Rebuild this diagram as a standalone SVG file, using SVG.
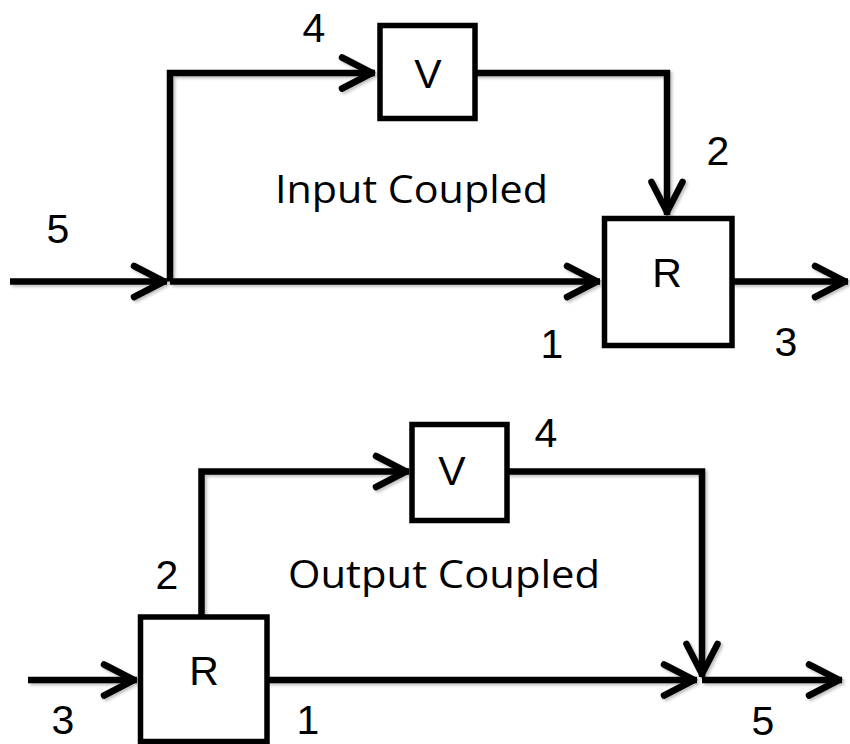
<svg xmlns="http://www.w3.org/2000/svg" width="850" height="744" viewBox="0 0 850 744">
<style>
.box{fill:#fff;stroke:#000;stroke-width:5.5}
.ln{fill:none;stroke:#000;stroke-width:6.5;stroke-linejoin:miter;stroke-linecap:butt}
.lbl{font-family:"Liberation Sans",Arial,sans-serif;font-size:41px;fill:#000;text-anchor:middle}
.ttl{font-family:"Open Sans","Liberation Sans",Arial,sans-serif;font-size:39px;fill:#000}
</style>
<defs>
<marker id="ah" markerUnits="userSpaceOnUse" markerWidth="50" markerHeight="50" viewBox="-40 -25 50 50" refX="0" refY="0" orient="auto" overflow="visible">
<path d="M-33,-15.5 L-3,0 L-33,15.5" fill="none" stroke="#000" stroke-width="6.5" stroke-linecap="round" stroke-linejoin="round"/>
</marker>
<filter id="sh" x="-5%" y="-5%" width="110%" height="110%">
<feDropShadow dx="2" dy="2" stdDeviation="1.5" flood-color="#000" flood-opacity="0.25"/>
</filter>
</defs>
<g id="connectors" filter="url(#sh)">
<path class="ln" d="M10,281.5 L167,281.5" marker-end="url(#ah)"/>
<path class="ln" d="M170,281.5 L170,73 L375,73" marker-end="url(#ah)"/>
<path class="ln" d="M170,281.5 L600,281.5" marker-end="url(#ah)"/>
<path class="ln" d="M475,73 L667,73 L667,215" marker-end="url(#ah)"/>
<path class="ln" d="M732,281.5 L848,281.5" marker-end="url(#ah)"/>
<path class="ln" d="M28,680 L137,680" marker-end="url(#ah)"/>
<path class="ln" d="M201.5,617 L201.5,471.5 L409,471.5" marker-end="url(#ah)"/>
<path class="ln" d="M267,680 L697,680" marker-end="url(#ah)"/>
<path class="ln" d="M507,471.5 L702,471.5 L702,677" marker-end="url(#ah)"/>
<path class="ln" d="M702,680 L842,680" marker-end="url(#ah)"/>
</g>
<g id="V_top">
<rect class="box" x="380" y="25.5" width="95" height="93"/>
<text class="lbl" x="428" y="88">V</text>
</g>
<g id="R_top">
<rect class="box" x="604.5" y="218.5" width="127.5" height="127"/>
<text class="lbl" x="667" y="287">R</text>
</g>
<g id="V_bottom">
<rect class="box" x="412" y="424.5" width="95" height="96"/>
<text class="lbl" x="452" y="485">V</text>
</g>
<g id="R_bottom">
<rect class="box" x="140.5" y="617" width="126.5" height="124.5"/>
<text class="lbl" x="204" y="685">R</text>
</g>
<g id="labels">
<text class="lbl" x="314" y="42">4</text>
<text class="lbl" x="718" y="165">2</text>
<text class="lbl" x="58" y="243">5</text>
<text class="lbl" x="552" y="358">1</text>
<text class="lbl" x="786" y="356">3</text>
<text class="ttl" x="275" y="203" textLength="273" lengthAdjust="spacingAndGlyphs">Input Coupled</text>
<text class="lbl" x="546" y="447">4</text>
<text class="ttl" x="288" y="588" textLength="312" lengthAdjust="spacingAndGlyphs">Output Coupled</text>
<text class="lbl" x="167" y="589">2</text>
<text class="lbl" x="63" y="734">3</text>
<text class="lbl" x="308" y="734">1</text>
<text class="lbl" x="763" y="735">5</text>
</g>
</svg>
